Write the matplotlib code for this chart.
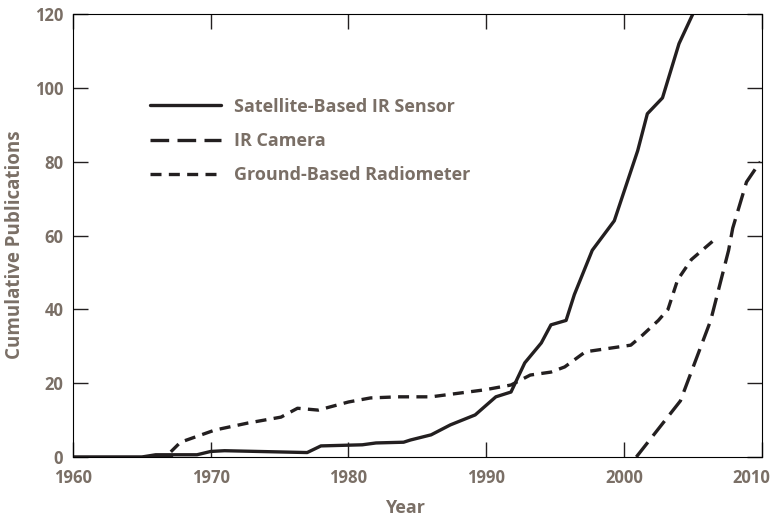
import matplotlib
matplotlib.use("Agg")
import matplotlib.pyplot as plt
import matplotlib.transforms as mtransforms

plt.rcParams['font.family'] = ['Open Sans', 'DejaVu Sans']

TXT = '#7a6f66'
INK = '#231f20'

sat_years = [1960, 1965, 1966, 1969, 1970, 1971, 1977, 1978, 1980, 1981, 1982, 1984,
             1984.5, 1986, 1987.4, 1989.2, 1990.7, 1991.8, 1992.8, 1994.0, 1994.7,
             1995.8, 1996.4, 1997.7, 1999.3, 2001.0, 2001.7, 2002.8, 2004.0, 2005.5]
sat_vals = [0, 0, 0.6, 0.6, 1.5, 1.7, 1.2, 3.0, 3.2, 3.3, 3.8, 4.0,
            4.6, 6.0, 8.7, 11.4, 16.3, 17.6, 25.5, 30.9, 35.8,
            37.0, 44.0, 56.0, 64.0, 83.0, 93.0, 97.3, 112.0, 124.0]

cam_years = [2000.9, 2004.1, 2006.3, 2007.6, 2007.9, 2008.9, 2009.9]
cam_vals = [0, 15.2, 37.0, 56.0, 62.0, 74.5, 80.0]

rad_years = [1967.1, 1967.8, 1970.3, 1972.7, 1975.1, 1976.3, 1977.8, 1980.0, 1981.6,
             1983.6, 1986.0, 1989.9, 1991.8, 1993.2, 1994.7, 1995.7, 1997.2, 2000.5,
             2001.2, 2002.5, 2003.2, 2003.9, 2004.9, 2006.8]
rad_vals = [1.4, 4.0, 7.3, 9.2, 10.8, 13.2, 12.7, 14.9, 16.0,
            16.3, 16.3, 18.2, 19.5, 22.2, 23.0, 24.4, 28.5, 30.3,
            32.5, 37.0, 40.0, 48.0, 53.5, 59.6]

labels = ['Satellite-Based IR Sensor', 'IR Camera', 'Ground-Based Radiometer']
x_ticks = [1960, 1970, 1980, 1990, 2000, 2010]
y_ticks = [0, 20, 40, 60, 80, 100, 120]

fig = plt.figure(figsize=(7.72, 5.18), dpi=100)
ax = fig.add_axes([0.0946, 0.1178, 0.892, 0.855])

lw = 2.4
ax.plot(sat_years, sat_vals, color=INK, lw=lw, label=labels[0],
        solid_joinstyle='round', solid_capstyle='round')
l2, = ax.plot(cam_years, cam_vals, color=INK, lw=lw, label=labels[1])
l2.set_dashes([5.6, 2.5])
l3, = ax.plot(rad_years, rad_vals, color=INK, lw=lw, label=labels[2])
l3.set_dashes([3.3, 2.2])
ax.plot([1960, 1967.1], [0, 0], color=INK, lw=lw)

ax.set_xlim(1960, 2010)
ax.set_ylim(0, 120)
ax.set_xticks(x_ticks)
ax.set_yticks(y_ticks)
ax.tick_params(direction='in', length=11, width=1.0, color=INK,
               top=True, right=True, labelsize=12, labelcolor=TXT, pad=7)
ax.tick_params(axis='x', pad=9)
for lab in ax.get_xticklabels() + ax.get_yticklabels():
    lab.set_fontweight('bold')
last = ax.get_xticklabels()[-1]
last.set_horizontalalignment('right')
last.set_transform(last.get_transform() + mtransforms.ScaledTranslation(0.085, 0, fig.dpi_scale_trans))

ax.set_xlabel('Year', fontsize=13, fontweight='bold', color=TXT, va='center')
ax.set_ylabel('Cumulative Publications', fontsize=13.5, fontweight='bold', color=TXT, va='center')
ax.xaxis.set_label_coords(0.482, -0.115)
ax.yaxis.set_label_coords(-0.084, 0.48)

leg = ax.legend(loc='upper left', bbox_to_anchor=(0.112, 0.811), frameon=False,
                borderpad=0, borderaxespad=0,
                handlelength=3.9, handletextpad=0.72, labelspacing=0.9,
                prop={'size': 13, 'weight': 'bold'})
for t in leg.get_texts():
    t.set_color(TXT)

fig.savefig('out.png', dpi=100)
